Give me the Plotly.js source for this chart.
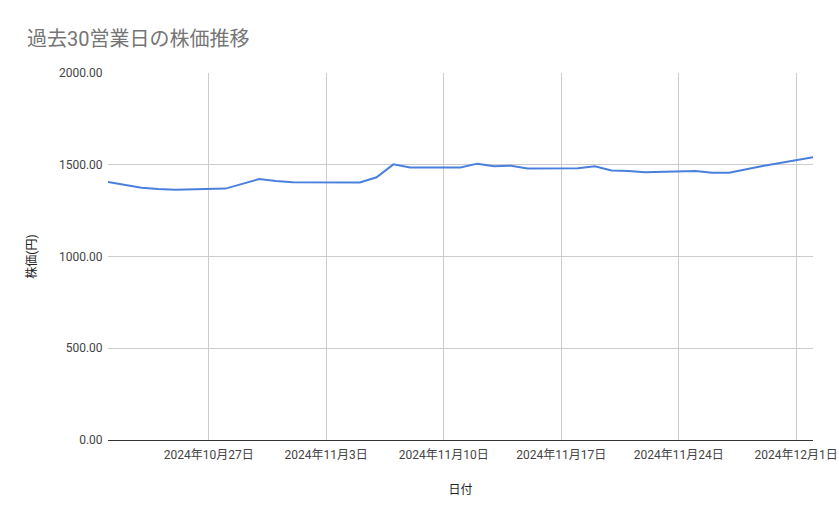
<!DOCTYPE html>
<html>
<head>
<meta charset="utf-8">
<script src="https://cdn.plot.ly/plotly-3.0.1.min.js"></script>
<style>
  html, body { margin: 0; padding: 0; background: #fff; }
  #chart { width: 839px; height: 519px; }
</style>
</head>
<body>
<div id="chart"></div>
<script>
// 30 business days (Nov 4 and Nov 23 are holidays)
const dates = [
  '2024-10-21', '2024-10-22', '2024-10-23', '2024-10-24', '2024-10-25',
  '2024-10-28', '2024-10-29', '2024-10-30', '2024-10-31', '2024-11-01',
  '2024-11-05', '2024-11-06', '2024-11-07', '2024-11-08',
  '2024-11-11', '2024-11-12', '2024-11-13', '2024-11-14', '2024-11-15',
  '2024-11-18', '2024-11-19', '2024-11-20', '2024-11-21', '2024-11-22',
  '2024-11-25', '2024-11-26', '2024-11-27', '2024-11-28', '2024-11-29',
  '2024-12-02',
];
const prices = [
  1406, 1391, 1375, 1368, 1364,
  1370, 1395, 1422, 1411, 1404,
  1403, 1432, 1502, 1485,
  1485, 1506, 1492, 1495, 1479,
  1481, 1492, 1469, 1466, 1459,
  1466, 1457, 1456, 1475, 1493,
  1541,
];

const tickDates = ['2024-10-27', '2024-11-03', '2024-11-10', '2024-11-17', '2024-11-24', '2024-12-01'];
const tickLabels = ['2024年10月27日', '2024年11月3日', '2024年11月10日', '2024年11月17日', '2024年11月24日', '2024年12月1日'];
const yTicks = [0, 500, 1000, 1500, 2000];

const fontFamily = 'Roboto, "Noto Sans CJK JP", sans-serif';

const trace = {
  x: dates,
  y: prices,
  type: 'scatter',
  mode: 'lines',
  line: { color: '#4a80dd', width: 2 },
  hovertemplate: '%{y:.2f}<extra></extra>',
};

const layout = {
  width: 839,
  height: 519,
  margin: { l: 108, r: 26, t: 73, b: 79 },
  paper_bgcolor: '#ffffff',
  plot_bgcolor: '#ffffff',
  font: { family: fontFamily, size: 12, color: '#444' },
  showlegend: false,
  title: {
    text: '過去30営業日の株価推移',
    x: 27 / 839,
    xanchor: 'left',
    y: 1 - 39 / 519,
    yanchor: 'middle',
    font: { family: fontFamily, size: 20, color: '#757575' },
  },
  xaxis: {
    type: 'date',
    range: ['2024-10-21', '2024-12-02'],
    tickvals: tickDates,
    ticktext: tickLabels,
    showgrid: true,
    gridcolor: '#cccccc',
    gridwidth: 1,
    zeroline: false,
    showline: false,
    ticks: 'outside',
    ticklen: 4,
    tickcolor: 'rgba(0,0,0,0)',
    tickfont: { size: 12, color: '#444' },
    title: { text: '日付', font: { size: 12, color: '#222' }, standoff: 24 },
  },
  yaxis: {
    range: [0, 2000],
    tickvals: yTicks,
    tickformat: '.2f',
    showgrid: true,
    gridcolor: '#cccccc',
    gridwidth: 1,
    zeroline: true,
    zerolinecolor: '#333333',
    zerolinewidth: 1,
    showline: false,
    ticks: 'outside',
    ticklen: 2,
    tickcolor: 'rgba(0,0,0,0)',
    tickfont: { size: 12, color: '#444' },
    title: { text: '株価(円)', font: { size: 12, color: '#222' }, standoff: 19 },
  },
};

const config = { displayModeBar: false };

Plotly.newPlot('chart', [trace], layout, config);
</script>
</body>
</html>
